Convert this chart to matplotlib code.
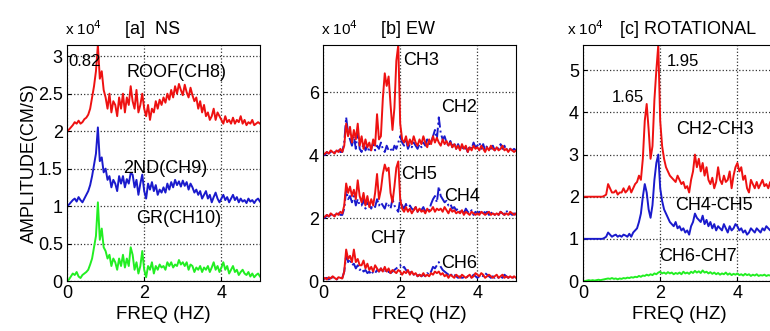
import numpy as np
import matplotlib
matplotlib.use('Agg')
import matplotlib.pyplot as plt

plt.rcParams['font.family'] = ['Liberation Sans', 'DejaVu Sans']

# frequency axis, Hz (0.05 Hz step)
freq = np.linspace(0, 5, 101)

# amplitudes in units of 1e4 cm/s
ns_roof = [2.00,2.02,2.05,2.08,2.12,2.10,2.14,2.10,2.12,2.16,
           2.18,2.22,2.30,2.45,2.60,2.80,3.15,2.70,2.80,2.55,
           2.45,2.30,2.50,2.25,2.40,2.35,2.20,2.45,2.30,2.50,
           2.25,2.45,2.35,2.60,2.40,2.30,2.55,2.25,2.35,2.50,
           2.30,2.20,2.35,2.15,2.30,2.25,2.40,2.30,2.42,2.35,
           2.45,2.38,2.50,2.42,2.55,2.45,2.60,2.50,2.63,2.55,
           2.48,2.62,2.52,2.45,2.58,2.48,2.40,2.45,2.30,2.40,
           2.25,2.35,2.20,2.25,2.15,2.20,2.30,2.15,2.25,2.20,
           2.15,2.10,2.20,2.12,2.15,2.10,2.18,2.10,2.15,2.12,
           2.20,2.10,2.15,2.08,2.12,2.10,2.15,2.08,2.10,2.12,2.10]
ns_2nd = [1.00,1.02,1.05,1.08,1.10,1.06,1.12,1.08,1.05,1.10,
          1.15,1.20,1.28,1.40,1.55,1.70,2.05,1.60,1.65,1.45,
          1.50,1.35,1.40,1.25,1.35,1.30,1.20,1.40,1.30,1.40,
          1.25,1.36,1.30,1.44,1.42,1.25,1.35,1.15,1.30,1.42,
          1.20,1.10,1.30,1.22,1.32,1.20,1.28,1.15,1.22,1.18,
          1.25,1.18,1.30,1.22,1.32,1.25,1.35,1.28,1.33,1.26,
          1.34,1.27,1.32,1.22,1.30,1.25,1.18,1.22,1.15,1.20,
          1.10,1.15,1.20,1.10,1.15,1.05,1.12,1.18,1.10,1.05,
          1.10,1.15,1.08,1.12,1.05,1.10,1.15,1.08,1.12,1.05,
          1.10,1.06,1.08,1.04,1.10,1.06,1.08,1.04,1.08,1.10,1.06]
ns_gr = [0.00,0.02,0.06,0.10,0.08,0.12,0.06,0.04,0.08,0.10,
         0.12,0.15,0.22,0.30,0.45,0.60,1.05,0.55,0.70,0.45,
         0.40,0.30,0.35,0.20,0.30,0.25,0.15,0.30,0.20,0.35,
         0.18,0.30,0.20,0.45,0.35,0.15,0.25,0.10,0.20,0.40,
         0.15,0.05,0.20,0.15,0.25,0.10,0.20,0.15,0.22,0.18,
         0.20,0.15,0.25,0.20,0.25,0.18,0.22,0.20,0.28,0.22,
         0.25,0.20,0.25,0.15,0.22,0.20,0.12,0.18,0.15,0.20,
         0.12,0.18,0.15,0.20,0.12,0.18,0.25,0.15,0.20,0.12,
         0.18,0.25,0.15,0.20,0.10,0.15,0.20,0.12,0.15,0.08,
         0.12,0.15,0.10,0.08,0.12,0.06,0.10,0.05,0.08,0.10,0.06]

ew_ch3 = [4.00,4.05,4.10,4.05,4.15,4.10,4.05,4.15,4.10,4.20,
          4.10,4.30,5.00,4.60,4.90,4.40,4.80,4.50,5.00,4.30,
          4.60,4.20,4.50,4.25,4.40,4.15,4.50,4.30,5.30,4.50,
          4.60,5.80,6.60,6.20,6.50,5.60,4.80,5.50,7.00,7.50,
          5.00,4.50,4.40,4.60,4.30,4.50,4.35,4.60,4.40,4.30,
          4.50,4.35,4.60,4.40,4.25,4.50,4.35,4.60,4.40,4.55,
          4.40,4.30,4.50,4.35,4.45,4.30,4.40,4.25,4.35,4.20,
          4.30,4.15,4.35,4.20,4.30,4.10,4.25,4.15,4.30,4.20,
          4.25,4.15,4.30,4.20,4.10,4.25,4.15,4.30,4.20,4.15,
          4.25,4.15,4.20,4.30,4.15,4.20,4.10,4.20,4.15,4.10,4.15]
ew_ch2 = [4.05,4.00,4.10,4.05,4.10,4.15,4.10,4.05,4.15,4.10,
          4.10,4.40,5.20,4.70,4.50,4.30,4.60,4.20,4.80,4.20,
          4.10,4.40,4.15,4.30,4.10,4.20,4.40,4.15,4.30,4.20,
          4.40,4.20,4.10,4.30,4.15,4.20,4.10,4.30,4.20,4.40,
          4.60,4.40,4.30,4.50,4.20,4.35,4.25,4.40,4.30,4.20,
          4.35,4.25,4.40,4.30,4.50,4.35,4.40,4.60,4.80,4.50,
          5.20,4.70,4.50,4.60,4.40,4.30,4.45,4.25,4.40,4.20,
          4.35,4.20,4.30,4.15,4.25,4.10,4.30,4.20,4.40,4.25,
          4.30,4.40,4.20,4.35,4.15,4.30,4.25,4.20,4.30,4.15,
          4.25,4.20,4.35,4.20,4.30,4.15,4.25,4.20,4.15,4.20,4.15]
ew_ch5 = [2.00,2.05,2.10,2.05,2.15,2.10,2.05,2.15,2.10,2.20,
          2.15,2.40,3.10,2.80,3.00,2.70,2.90,2.60,3.20,2.70,
          2.50,2.80,2.40,2.70,2.35,2.60,2.40,2.80,3.40,2.60,
          2.90,3.40,3.70,3.50,3.60,2.80,2.50,3.00,3.60,3.80,
          2.60,2.30,2.20,2.35,2.20,2.30,2.15,2.25,2.35,2.20,
          2.30,2.20,2.25,2.15,2.30,2.20,2.25,2.35,2.20,2.30,
          2.25,2.30,2.20,2.35,2.25,2.15,2.30,2.20,2.25,2.15,
          2.20,2.15,2.25,2.10,2.20,2.15,2.10,2.20,2.15,2.10,
          2.15,2.10,2.20,2.15,2.10,2.15,2.20,2.10,2.15,2.10,
          2.15,2.10,2.20,2.15,2.10,2.15,2.10,2.20,2.15,2.10,2.15]
ew_ch4 = [2.05,2.00,2.10,2.05,2.10,2.15,2.10,2.05,2.15,2.10,
          2.10,2.30,2.90,2.60,2.70,2.50,2.70,2.40,2.60,2.40,
          2.40,2.60,2.30,2.50,2.40,2.30,2.50,2.35,2.60,2.40,
          2.50,2.40,2.30,2.50,2.40,2.30,2.60,2.40,2.30,2.20,
          2.60,2.40,2.30,2.45,2.25,2.40,2.30,2.25,2.35,2.20,
          2.30,2.25,2.35,2.20,2.30,2.25,2.45,2.60,2.70,2.50,
          3.00,2.70,2.60,2.50,2.55,2.40,2.45,2.30,2.35,2.25,
          2.30,2.20,2.25,2.15,2.30,2.20,2.15,2.25,2.10,2.20,
          2.15,2.20,2.10,2.25,2.15,2.20,2.10,2.15,2.20,2.10,
          2.15,2.10,2.20,2.15,2.10,2.25,2.10,2.15,2.10,2.15,2.10]
ew_ch7 = [0.05,0.10,0.05,0.12,0.08,0.15,0.10,0.05,0.12,0.10,
          0.08,0.30,1.00,0.70,0.80,0.60,1.00,0.60,0.70,0.50,
          0.50,0.65,0.40,0.55,0.35,0.45,0.30,0.50,0.40,0.30,
          0.40,0.30,0.45,0.30,0.40,0.25,0.35,0.30,0.25,0.35,
          0.30,0.20,0.30,0.25,0.35,0.20,0.30,0.20,0.25,0.15,
          0.20,0.15,0.25,0.15,0.20,0.15,0.25,0.20,0.30,0.25,
          0.30,0.20,0.25,0.15,0.20,0.10,0.20,0.15,0.10,0.20,
          0.15,0.10,0.20,0.15,0.10,0.15,0.20,0.10,0.15,0.25,
          0.20,0.15,0.25,0.20,0.10,0.15,0.20,0.15,0.10,0.15,
          0.20,0.10,0.15,0.20,0.10,0.15,0.10,0.15,0.10,0.15,0.10]
ew_ch6 = [0.05,0.08,0.10,0.05,0.10,0.12,0.08,0.05,0.10,0.08,
          0.10,0.30,0.80,0.60,0.70,0.50,0.55,0.40,0.50,0.35,
          0.40,0.30,0.35,0.25,0.30,0.20,0.30,0.25,0.35,0.30,
          0.40,0.30,0.35,0.25,0.30,0.25,0.30,0.35,0.40,0.45,
          0.50,0.40,0.45,0.35,0.30,0.25,0.30,0.20,0.25,0.15,
          0.20,0.15,0.20,0.15,0.25,0.20,0.30,0.45,0.40,0.50,
          0.60,0.45,0.35,0.30,0.25,0.20,0.25,0.15,0.20,0.15,
          0.10,0.15,0.10,0.12,0.08,0.15,0.10,0.12,0.20,0.15,
          0.10,0.15,0.20,0.15,0.25,0.20,0.15,0.10,0.15,0.10,
          0.15,0.10,0.15,0.10,0.20,0.15,0.10,0.15,0.10,0.12,0.10]

rot_23 = [2.00,2.00,2.00,2.00,2.00,2.00,2.00,2.00,2.00,2.00,
          2.00,2.02,2.05,2.30,2.20,2.10,2.10,2.15,2.05,2.10,
          2.10,2.20,2.10,2.15,2.25,2.10,2.20,2.30,2.35,2.50,
          2.40,2.90,3.80,4.20,3.60,2.90,3.20,4.30,5.00,5.60,
          3.80,3.20,2.90,2.70,2.60,2.50,2.45,2.40,2.35,2.50,
          2.40,2.30,2.35,2.20,2.25,2.10,2.40,2.60,3.00,2.70,
          2.90,2.60,2.80,2.50,2.70,2.40,2.30,2.45,2.20,2.35,
          2.70,2.40,2.30,2.50,2.35,2.40,2.60,2.20,2.50,2.70,
          2.80,2.60,2.70,2.40,2.50,2.20,2.10,2.40,2.30,2.20,
          2.35,2.20,2.30,2.40,2.25,2.30,2.20,2.35,2.25,2.30,2.20]
rot_45 = [1.00,1.00,1.00,1.00,1.00,1.00,1.00,1.00,1.00,1.00,
          1.00,1.02,1.05,1.15,1.10,1.05,1.08,1.10,1.05,1.08,
          1.05,1.10,1.08,1.05,1.12,1.05,1.15,1.20,1.25,1.40,
          1.60,2.00,2.30,2.10,1.70,1.50,1.80,2.40,2.80,3.00,
          2.20,1.90,1.70,1.60,1.50,1.40,1.35,1.30,1.40,1.25,
          1.30,1.20,1.25,1.15,1.20,1.10,1.30,1.40,1.60,1.50,
          1.45,1.40,1.55,1.35,1.45,1.30,1.40,1.25,1.35,1.20,
          1.30,1.25,1.20,1.35,1.25,1.15,1.30,1.20,1.25,1.35,
          1.30,1.20,1.25,1.15,1.20,1.10,1.15,1.25,1.20,1.15,
          1.25,1.20,1.15,1.25,1.20,1.30,1.25,1.20,1.30,1.25,1.30]
rot_67 = [0.00,0.00,0.01,0.02,0.01,0.02,0.01,0.02,0.03,0.02,
          0.03,0.04,0.05,0.06,0.05,0.07,0.05,0.06,0.04,0.06,
          0.05,0.07,0.06,0.08,0.07,0.09,0.08,0.10,0.09,0.12,
          0.10,0.13,0.12,0.15,0.13,0.16,0.14,0.18,0.16,0.20,
          0.22,0.18,0.20,0.17,0.21,0.18,0.20,0.16,0.19,0.17,
          0.20,0.16,0.22,0.18,0.20,0.17,0.22,0.19,0.24,0.20,
          0.23,0.19,0.25,0.20,0.22,0.18,0.21,0.17,0.20,0.16,
          0.19,0.15,0.18,0.16,0.20,0.15,0.18,0.14,0.17,0.15,
          0.18,0.14,0.16,0.13,0.17,0.14,0.16,0.12,0.15,0.13,
          0.16,0.12,0.14,0.13,0.15,0.12,0.14,0.13,0.15,0.12,0.14]

RED, BLUE, GREEN = '#ee1111', '#1a1acc', '#22ee22'
LW = 1.4
TXT = 13
W, H = 770, 331
fig = plt.figure(figsize=(W / 100, H / 100), dpi=100)

def make_ax(left_px, ymax, yticks, title, title_x, exp_x=-0.01):
    ax = fig.add_axes([left_px / W, 1 - 281 / H, 193 / W, 236 / H])
    ax.set_xlim(0, 5)
    ax.set_ylim(0, ymax)
    ax.set_xticks([0, 2, 4])
    ax.set_yticks(yticks)
    ax.set_yticklabels([('%g' % t) for t in yticks])
    ax.tick_params(direction='in', labelsize=13, length=3, pad=3)
    ax.grid(True, linestyle=':', color='#333333', linewidth=0.9)
    ax.set_xlabel('FREQ (HZ)', fontsize=13.5, labelpad=3)
    ax.text(exp_x, 1.03, r'x 10$^4$', transform=ax.transAxes, fontsize=11,
            ha='left', va='bottom')
    ax.text(title_x, 1.03, title, transform=ax.transAxes, fontsize=13,
            ha='left', va='bottom')
    return ax

# [a] NS
ax1 = make_ax(67, 3.15, [0, 0.5, 1, 1.5, 2, 2.5, 3], '[a]  NS', 0.30)
ax1.plot(freq, ns_roof, color=RED, lw=LW)
ax1.plot(freq, ns_2nd, color=BLUE, lw=LW)
ax1.plot(freq, ns_gr, color=GREEN, lw=LW)
ax1.set_ylabel('AMPLITUDE(CM/S)', fontsize=13, labelpad=0)
ax1.text(0.04, 2.93, '0.82', fontsize=12, va='center')
ax1.text(1.55, 2.78, 'ROOF(CH8)', fontsize=TXT, va='center')
ax1.text(1.45, 1.50, '2ND(CH9)', fontsize=TXT, va='center')
ax1.text(1.8, 0.84, 'GR(CH10)', fontsize=TXT, va='center')

# [b] EW
ax2 = make_ax(323, 7.5, [0, 2, 4, 6], '[b] EW', 0.30)
for blue, red in [(ew_ch2, ew_ch3), (ew_ch4, ew_ch5), (ew_ch6, ew_ch7)]:
    ax2.plot(freq, blue, color=BLUE, lw=LW, ls='-.')
    ax2.plot(freq, red, color=RED, lw=LW)
ax2.text(2.08, 7.0, 'CH3', fontsize=TXT, va='center')
ax2.text(3.05, 5.5, 'CH2', fontsize=TXT, va='center')
ax2.text(2.02, 3.4, 'CH5', fontsize=TXT, va='center')
ax2.text(3.15, 2.7, 'CH4', fontsize=TXT, va='center')
ax2.text(1.22, 1.35, 'CH7', fontsize=TXT, va='center')
ax2.text(3.05, 0.55, 'CH6', fontsize=TXT, va='center')

# [c] ROTATIONAL
ax3 = make_ax(583, 5.6, [0, 1, 2, 3, 4, 5], '[c] ROTATIONAL', 0.19, exp_x=-0.085)
ax3.plot(freq, rot_23, color=RED, lw=LW)
ax3.plot(freq, rot_45, color=BLUE, lw=LW)
ax3.plot(freq, rot_67, color=GREEN, lw=LW)
ax3.text(2.18, 5.2, '1.95', fontsize=12, va='center')
ax3.text(0.75, 4.35, '1.65', fontsize=12, va='center')
ax3.text(2.42, 3.6, 'CH2-CH3', fontsize=TXT, va='center')
ax3.text(2.38, 1.8, 'CH4-CH5', fontsize=TXT, va='center')
ax3.text(1.98, 0.57, 'CH6-CH7', fontsize=TXT, va='center')

fig.savefig('out.png', dpi=100)
